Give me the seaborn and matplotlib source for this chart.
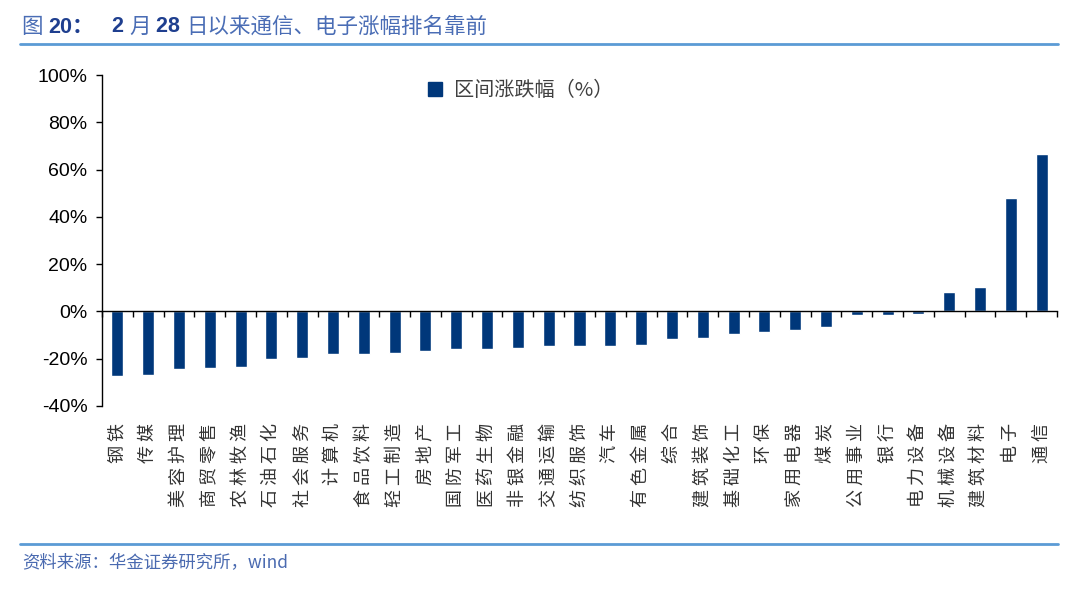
import numpy as np
import pandas as pd
import seaborn as sns
import matplotlib.pyplot as plt
import matplotlib.transforms as mtrans
from matplotlib.patches import Patch
from matplotlib.lines import Line2D

# industries ranked by change since Feb 28
industries = ["钢铁", "传媒", "美容护理", "商贸零售", "农林牧渔", "石油石化", "社会服务",
              "计算机", "食品饮料", "轻工制造", "房地产", "国防军工", "医药生物", "非银金融",
              "交通运输", "纺织服饰", "汽车", "有色金属", "综合", "建筑装饰", "基础化工",
              "环保", "家用电器", "煤炭", "公用事业", "银行", "电力设备", "机械设备",
              "建筑材料", "电子", "通信"]
change_pct = [-27.2, -26.7, -24.3, -23.9, -23.6, -20.1, -19.6, -17.9, -17.9, -17.7,
              -16.7, -16.1, -15.7, -15.4, -14.7, -14.7, -14.8, -14.0, -11.7, -11.4,
              -9.4, -8.5, -8.0, -6.4, -1.6, -1.4, -1.0, 8.4, 10.4, 47.9, 66.4]
y_ticks = [-40, -20, 0, 20, 40, 60, 80, 100]

# title pieces: (text, bold)
title_parts = [("图 ", False), ("20：", True), ("   2 ", True), ("月 ", False), ("28 ", True),
               ("日以来通信、电子涨幅排名靠前", False)]

df = pd.DataFrame({"industry": industries, "change": change_pct})

bar_color = "#00377A"
rule_color = "#5B9BD5"
cjk = ["Noto Sans CJK SC", "Liberation Sans", "DejaVu Sans"]
latin = ["Liberation Sans", "Noto Sans CJK SC", "DejaVu Sans"]

sns.set_theme(style="white")
plt.rcParams['font.family'] = latin

fig = plt.figure(figsize=(10.8, 5.89), dpi=100)
ax = fig.add_axes([102 / 1080, 1 - 406 / 589, 955 / 1080, 331 / 589])

sns.barplot(data=df, x="industry", y="change", color=bar_color, width=0.39,
            saturation=1, ax=ax)

n = len(industries)
ax.set_xlim(-0.5, n - 0.5)
ax.set_ylim(y_ticks[0], y_ticks[-1])
ax.set_yticks(y_ticks)
ax.set_yticklabels([f"{v}%" for v in y_ticks])
ax.set_xlabel("")
ax.set_ylabel("")

for s in ["top", "right"]:
    ax.spines[s].set_visible(False)
ax.spines["left"].set_color("black")
ax.spines["left"].set_linewidth(1)
ax.spines["bottom"].set_position(("data", 0))
ax.spines["bottom"].set_color("black")
ax.spines["bottom"].set_linewidth(1)

# ticks between categories on the zero line
ax.set_xticks(np.arange(n + 1) - 0.5)
ax.set_xticklabels([])
ax.tick_params(axis="x", bottom=True, length=4.5, width=1, color="black", direction="out")
ax.tick_params(axis="y", left=True, length=4.5, width=1, color="black", direction="out",
               pad=6, labelsize=14, labelcolor="black")

# category labels below the plot, rotated
trans = mtrans.blended_transform_factory(ax.transData, ax.transAxes)
for i, name in enumerate(industries):
    ax.text(i, -0.05, " ".join(name), transform=trans, rotation=90, ha="center", va="top",
            fontsize=13, family=cjk, color="#333333")

ax.legend(handles=[Patch(facecolor=bar_color, edgecolor=bar_color)], labels=["区间涨跌幅（%）"],
          loc="center left", bbox_to_anchor=(0.341, 0.952), frameon=False,
          handlelength=0.7, handleheight=0.7, handletextpad=0.6, borderpad=0,
          borderaxespad=0, prop={"family": cjk, "size": 14.5},
          labelcolor="#404040")

# header: chain the title pieces left to right
fig.canvas.draw()
renderer = fig.canvas.get_renderer()
x = 22 / 1080
for text, bold in title_parts:
    t = fig.text(x, 1 - 27 / 589, text, va="center", ha="left", fontsize=15.5,
                 color="#1F3F8F" if bold else "#4A6DB5",
                 fontweight="bold" if bold else "normal", family=latin if bold else cjk)
    bb = t.get_window_extent(renderer=renderer)
    x = bb.x1 / fig.bbox.width

fig.add_artist(Line2D([20 / 1080, 1058 / 1080], [1 - 44 / 589] * 2, color=rule_color, lw=2,
                      transform=fig.transFigure))
fig.add_artist(Line2D([20 / 1080, 1058 / 1080], [1 - 544 / 589] * 2, color=rule_color, lw=2,
                      transform=fig.transFigure))
fig.text(22 / 1080, 1 - 563 / 589, "资料来源：华金证券研究所，wind", va="center", ha="left",
         fontsize=12.5, style="italic", color="#4A6AB0", family=cjk)

fig.savefig("out.png", dpi=100)
